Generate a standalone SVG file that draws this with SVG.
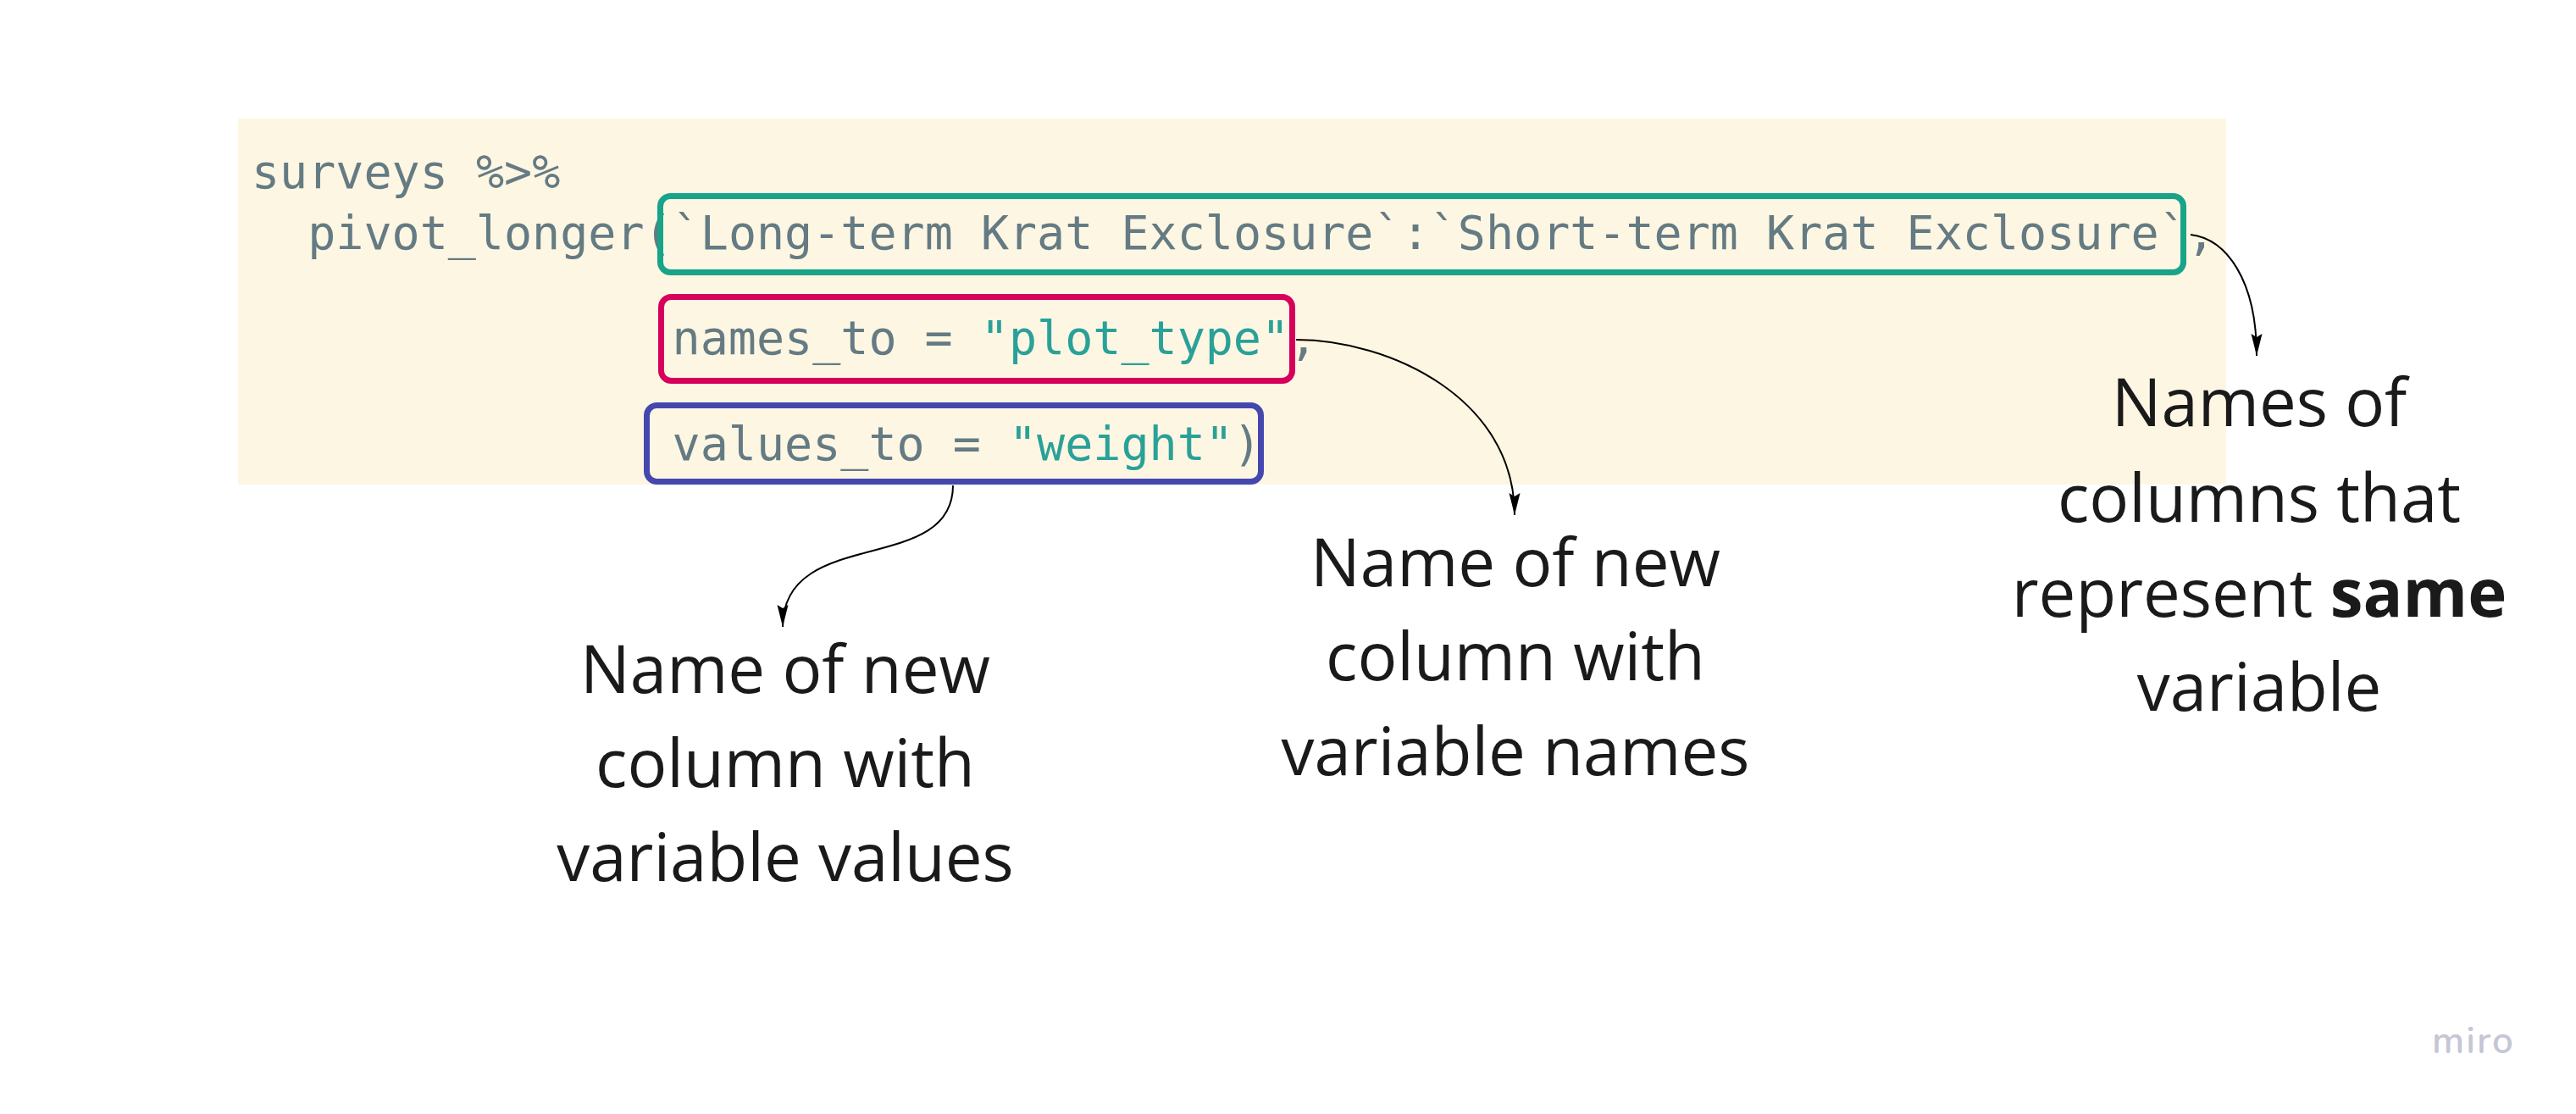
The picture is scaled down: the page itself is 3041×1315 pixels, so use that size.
<svg xmlns="http://www.w3.org/2000/svg" width="3041" height="1315" viewBox="0 0 3041 1315">
<style>
.code{font-family:"DejaVu Sans Mono","Liberation Mono",monospace;font-size:55px;fill:#657b83}
.str{fill:#2aa198}
.lbl{font-family:"Open Sans","Noto Sans",sans-serif;font-size:78px;fill:#1a1a1a;text-anchor:middle}
.box{fill:none;stroke-width:7}
.conn{fill:none;stroke:#000;stroke-width:2}
</style>
<defs>
<marker id="arr" markerUnits="userSpaceOnUse" markerWidth="28" markerHeight="14" refX="26" refY="6.5" orient="auto">
<path d="M0,0 L26,6.5 L0,13 L4,6.5 Z" fill="#000"/>
</marker>
</defs>
<rect width="3041" height="1315" fill="#ffffff"/>
<g id="code-block">
<rect x="281" y="140" width="2347" height="432" fill="#fdf6e3"/>
<text class="code" x="297" y="222">surveys %&gt;%</text>
<text class="code" x="363.2" y="294">pivot_longer(`Long-term Krat Exclosure`:`Short-term Krat Exclosure`,</text>
<text class="code" x="793.6" y="418">names_to = <tspan class="str">"plot_type"</tspan>,</text>
<text class="code" x="793.6" y="543">values_to = <tspan class="str">"weight"</tspan>)</text>
</g>
<g id="box-cols">
<rect class="box" x="779.5" y="231.5" width="1798" height="90" rx="12" stroke="#17a488"/>
</g>
<g id="box-names">
<rect class="box" x="780.5" y="350.5" width="745" height="99" rx="12" stroke="#d6005c"/>
</g>
<g id="box-values">
<rect class="box" x="763.5" y="478.5" width="725" height="90" rx="12" stroke="#4448ae"/>
</g>
<g id="connectors">
<path class="conn" d="M2586,277 C2628,282 2664,330 2664,420" marker-end="url(#arr)"/>
<path class="conn" d="M1530,401 C1640,401 1788,470 1788,608" marker-end="url(#arr)"/>
<path class="conn" d="M1125,573 C1125,680 924,620 924,740" marker-end="url(#arr)"/>
</g>
<g id="label-values">
<text class="lbl" x="927" y="818">Name of new</text>
<text class="lbl" x="927" y="929">column with</text>
<text class="lbl" x="927" y="1040">variable values</text>
</g>
<g id="label-names">
<text class="lbl" x="1789" y="692">Name of new</text>
<text class="lbl" x="1789" y="803">column with</text>
<text class="lbl" x="1789" y="915">variable names</text>
</g>
<g id="label-cols">
<text class="lbl" x="2667" y="503">Names of</text>
<text class="lbl" x="2667" y="616">columns that</text>
<text class="lbl" x="2667" y="728">represent <tspan font-weight="700">same</tspan></text>
<text class="lbl" x="2667" y="839">variable</text>
</g>
<g id="logo">
<text x="2920" y="1243" font-family="Nunito,'Open Sans',sans-serif" font-size="44" font-weight="600" fill="#c6c6d4" text-anchor="middle" letter-spacing="2">miro</text>
</g>
</svg>
